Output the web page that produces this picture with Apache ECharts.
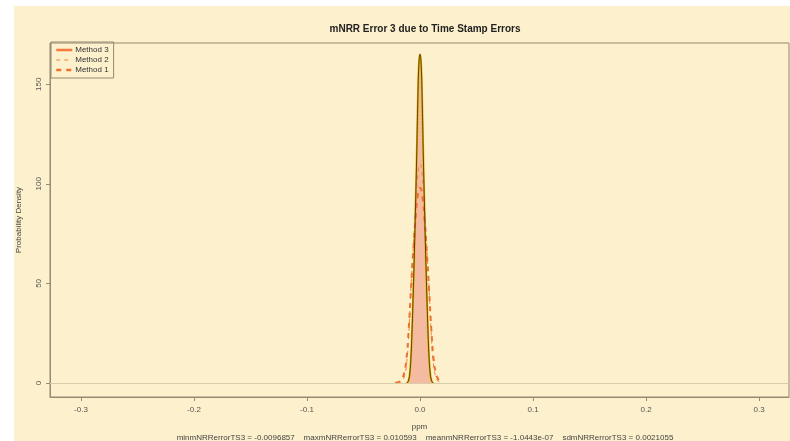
<!DOCTYPE html>
<html>
<head>
    <meta charset="utf-8" />
    <script src="https://cdn.jsdelivr.net/npm/echarts@6/dist/echarts.min.js"></script>
    <title>mNRR Error 3</title>
    <style>
        body { margin: 0; background: #ffffff; }
    </style>
</head>
<body>
    <div id="main" style="width: 790px;height:441px;"></div>

    <script type="text/javascript">
        // density estimates
        var xs3 = [-0.012, -0.011, -0.010, -0.009, -0.008, -0.007, -0.006, -0.005, -0.004, -0.003, -0.002, -0.001, 0,
                   0.001, 0.002, 0.003, 0.004, 0.005, 0.006, 0.007, 0.008, 0.009, 0.010, 0.011, 0.012];
        var ys3 = [0, 0.3, 1.5, 5, 13, 27, 45, 65, 88, 112, 140, 160, 165,
                   160, 140, 112, 88, 65, 45, 27, 13, 5, 1.5, 0.3, 0];

        var xs2 = [-0.020, -0.018, -0.016, -0.014, -0.012, -0.010, -0.008, -0.006, -0.004, -0.002, 0,
                   0.002, 0.004, 0.006, 0.008, 0.010, 0.012, 0.014, 0.016, 0.018, 0.020];
        var ys2 = [0, 0.3, 1, 3, 9, 24, 48, 68, 88, 104, 110, 104, 88, 68, 48, 24, 9, 3, 1, 0.3, 0];

        var xs1 = [-0.022, -0.020, -0.018, -0.016, -0.014, -0.012, -0.010, -0.008, -0.006, -0.004, -0.002, 0,
                   0.002, 0.004, 0.006, 0.008, 0.010, 0.012, 0.014, 0.016, 0.018, 0.020];
        var ys1 = [0, 0.3, 0.8, 2, 5, 12, 27, 47, 66, 82, 94, 98, 94, 82, 66, 47, 27, 12, 5, 2, 0.6, 0];

        var xTicks = [-0.3, -0.2, -0.1, 0.0, 0.1, 0.2, 0.3];
        var yTicks = [0, 50, 100, 150];

        function pairs(xs, ys) {
            var out = [];
            for (var i = 0; i < xs.length; i++) {
                out.push([xs[i], ys[i]]);
            }
            return out;
        }

        var font = 'Liberation Sans, Arial, sans-serif';
        var frame = '#958a72';

        var myChart = echarts.init(document.getElementById('main'));

        myChart.setOption({
            backgroundColor: '#ffffff',
            animation: false,
            graphic: [{
                type: 'rect',
                z: -10,
                shape: { x: 14, y: 6, width: 776, height: 435 },
                style: { fill: '#fdf0cc' }
            }],
            title: [{
                text: 'mNRR Error 3 due to Time Stamp Errors',
                left: 420,
                top: 19,
                textAlign: 'center',
                textStyle: { fontFamily: font, fontSize: 10, fontWeight: 'bold', color: '#222' }
            }, {
                text: 'minmNRRerrorTS3 = -0.0096857    maxmNRRerrorTS3 = 0.010593    meanmNRRerrorTS3 = -1.0443e-07    sdmNRRerrorTS3 = 0.0021055',
                left: 420,
                top: 429,
                textAlign: 'center',
                textStyle: { fontFamily: font, fontSize: 8, fontWeight: 'normal', color: '#444' }
            }],
            legend: {
                orient: 'vertical',
                left: 51,
                top: 42,
                itemGap: 2,
                itemWidth: 16,
                itemHeight: 8,
                padding: [4, 5, 4, 4],
                borderColor: frame,
                borderWidth: 1,
                textStyle: { fontFamily: font, fontSize: 8, color: '#333', padding: [0, 0, 0, -2] },
                data: [
                    { name: 'Method 3', itemStyle: { opacity: 0 }, lineStyle: { color: '#f47b3b', width: 2.5, type: 'solid' } },
                    { name: 'Method 2', itemStyle: { opacity: 0 }, lineStyle: { color: '#f0843c', width: 1, type: [4, 4] } },
                    { name: 'Method 1', itemStyle: { opacity: 0 }, lineStyle: { color: '#f07030', width: 2.5, type: [5, 5] } }
                ]
            },
            grid: {
                left: 50,
                right: 1,
                top: 43,
                bottom: 44,
                show: true,
                borderColor: frame,
                borderWidth: 1,
                backgroundColor: 'transparent'
            },
            xAxis: {
                type: 'value',
                min: -0.3274,
                max: 0.3265,
                name: 'ppm',
                nameLocation: 'middle',
                nameGap: 26,
                nameTextStyle: { fontFamily: font, fontSize: 8, color: '#444' },
                axisLine: { show: true, onZero: false, lineStyle: { color: frame } },
                axisTick: { show: true, length: 4, customValues: xTicks, lineStyle: { color: frame } },
                axisLabel: {
                    customValues: xTicks,
                    margin: 9,
                    fontFamily: font,
                    fontSize: 8,
                    color: '#555',
                    formatter: function (v) { return v.toFixed(1); }
                },
                splitLine: { show: false }
            },
            yAxis: {
                type: 'value',
                min: -7.03,
                max: 170.7,
                name: 'Probability Density',
                nameLocation: 'middle',
                nameGap: 27,
                nameTextStyle: { fontFamily: font, fontSize: 8, color: '#444' },
                axisLine: { show: true, onZero: false, lineStyle: { color: frame } },
                axisTick: { show: true, length: 4, customValues: yTicks, lineStyle: { color: frame } },
                axisLabel: {
                    customValues: yTicks,
                    rotate: 90,
                    margin: 7,
                    fontFamily: font,
                    fontSize: 8,
                    color: '#555'
                },
                splitLine: { show: false }
            },
            series: [{
                name: 'Method 3',
                type: 'line',
                smooth: true,
                symbol: 'none',
                z: 2,
                data: pairs(xs3, ys3),
                lineStyle: { color: '#e8b000', width: 2 },
                itemStyle: { color: '#f47b3b' },
                areaStyle: { color: '#f4bba0', opacity: 1 },
                markLine: {
                    silent: true,
                    symbol: 'none',
                    label: { show: false },
                    lineStyle: { color: '#d8cdaa', width: 1, type: 'solid' },
                    data: [{ yAxis: 0 }]
                }
            }, {
                name: 'Method 2',
                type: 'line',
                smooth: true,
                symbol: 'none',
                z: 3,
                data: pairs(xs2, ys2),
                itemStyle: { color: '#f0843c' },
                lineStyle: { color: '#f0843c', width: 1, type: [4, 4] }
            }, {
                name: 'Method 1',
                type: 'line',
                smooth: true,
                symbol: 'none',
                z: 3,
                data: pairs(xs1, ys1),
                itemStyle: { color: '#f07030' },
                lineStyle: { color: '#f07030', width: 2, type: [5, 5] }
            }, {
                name: 'outline',
                type: 'line',
                smooth: true,
                symbol: 'none',
                z: 4,
                data: pairs(xs3, ys3),
                lineStyle: { color: '#3a2a10', width: 0.8 }
            }]
        });
    </script>
</body>
</html>
